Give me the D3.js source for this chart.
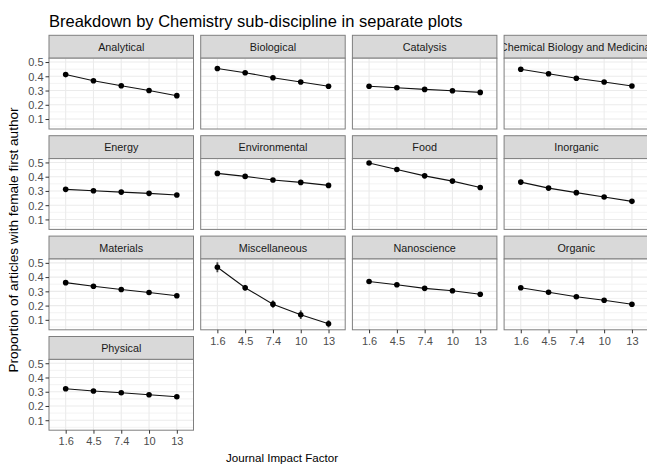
<!DOCTYPE html>
<html lang="en">
<head>
<meta charset="UTF-8">
<title>Breakdown by Chemistry sub-discipline</title>
<script src="https://d3js.org/d3.v7.min.js"></script>
<style>
  body { margin: 0; background: #fff; }
  svg { display: block; font-family: "Liberation Sans", Arial, sans-serif; }
</style>
</head>
<body>
<svg width="647" height="465"></svg>
<script>
// 데이터: 저널 임팩트 팩터 구간별 여성 제1저자 비율
const impactLabels = ["1.6", "4.5", "7.4", "10", "13"];
const disciplines = [
  "Analytical", "Biological", "Catalysis", "Chemical Biology and Medicinal",
  "Energy", "Environmental", "Food", "Inorganic",
  "Materials", "Miscellaneous", "Nanoscience", "Organic",
  "Physical"
];
const analytical    = [0.412, 0.369, 0.334, 0.300, 0.264];
const biological    = [0.455, 0.425, 0.390, 0.360, 0.330];
const catalysis     = [0.330, 0.320, 0.308, 0.299, 0.287];
const chemBioMed    = [0.449, 0.418, 0.386, 0.360, 0.332];
const energy        = [0.311, 0.301, 0.292, 0.283, 0.271];
const environmental = [0.423, 0.402, 0.377, 0.360, 0.339];
const food          = [0.496, 0.451, 0.406, 0.369, 0.324];
const inorganic     = [0.362, 0.320, 0.288, 0.257, 0.227];
const materials     = [0.361, 0.336, 0.313, 0.292, 0.269];
const miscellaneous = [0.469, 0.325, 0.210, 0.136, 0.072];
const nanoscience   = [0.369, 0.346, 0.321, 0.304, 0.280];
const organic       = [0.325, 0.294, 0.262, 0.237, 0.209];
const physical      = [0.321, 0.305, 0.293, 0.279, 0.265];
// 오차 막대 (± 값)
const miscError  = [0.035, 0.020, 0.025, 0.030, 0.025];
const foodError  = [0.007, 0.007, 0.007, 0.009, 0.015];
const smallError = [0.005, 0.005, 0.005, 0.005, 0.006];
const yTicks = [0.1, 0.2, 0.3, 0.4, 0.5];
const yMinor = [0.05, 0.15, 0.25, 0.35, 0.45];

const seriesValues = [analytical, biological, catalysis, chemBioMed, energy, environmental,
  food, inorganic, materials, miscellaneous, nanoscience, organic, physical];
const seriesErrors = disciplines.map(d =>
  d === "Miscellaneous" ? miscError : d === "Food" ? foodError : smallError);

const svg = d3.select("svg");

// 패싯 레이아웃
const marginLeft = 49, marginTop = 35.3;
const panelW = 144.5, stripH = 22.9, panelH = 70.8;
const colStep = 151.7, rowStep = 100.4;
const nCol = 4;

const x = d3.scalePoint().domain(impactLabels).range([0, panelW]).padding(0.6);
const y = d3.scaleLinear().domain([0.03, 0.527]).range([panelH, 0]);

const gridColor = "#ebebeb", borderColor = "#7f7f7f";

disciplines.forEach((name, i) => {
  const col = i % nCol, row = Math.floor(i / nCol);
  const g = svg.append("g")
    .attr("transform", `translate(${marginLeft + col * colStep},${marginTop + row * rowStep})`);

  // 스트립 (패싯 제목)
  const clipId = "clip" + i;
  g.append("clipPath").attr("id", clipId)
    .append("rect").attr("width", panelW).attr("height", stripH);
  g.append("rect")
    .attr("width", panelW).attr("height", stripH)
    .attr("fill", "#d9d9d9").attr("stroke", borderColor).attr("stroke-width", 1);
  g.append("text")
    .attr("clip-path", `url(#${clipId})`)
    .attr("x", panelW / 2).attr("y", stripH / 2 + 4)
    .attr("text-anchor", "middle")
    .style("font-size", "10.8px").style("fill", "#1a1a1a")
    .text(name);

  const p = g.append("g").attr("transform", `translate(0,${stripH})`);
  p.append("rect").attr("width", panelW).attr("height", panelH).attr("fill", "#fff");

  // 격자선
  p.selectAll("line.minor").data(yMinor).enter().append("line")
    .attr("x1", 0).attr("x2", panelW)
    .attr("y1", d => y(d)).attr("y2", d => y(d))
    .attr("stroke", gridColor).attr("stroke-width", 0.6);
  p.selectAll("line.major").data(yTicks).enter().append("line")
    .attr("x1", 0).attr("x2", panelW)
    .attr("y1", d => y(d)).attr("y2", d => y(d))
    .attr("stroke", gridColor).attr("stroke-width", 1.1);
  p.selectAll("line.vmajor").data(impactLabels).enter().append("line")
    .attr("y1", 0).attr("y2", panelH)
    .attr("x1", d => x(d)).attr("x2", d => x(d))
    .attr("stroke", gridColor).attr("stroke-width", 1.1);

  const vals = seriesValues[i], errs = seriesErrors[i];
  const data = impactLabels.map((k, j) => ({ k, v: vals[j], e: errs[j] }));

  // 오차 막대
  p.selectAll("line.err").data(data).enter().append("line")
    .attr("x1", d => x(d.k)).attr("x2", d => x(d.k))
    .attr("y1", d => y(d.v - d.e)).attr("y2", d => y(d.v + d.e))
    .attr("stroke", "#444").attr("stroke-width", 1.8);

  p.append("path").datum(data)
    .attr("d", d3.line().x(d => x(d.k)).y(d => y(d.v)))
    .attr("fill", "none").attr("stroke", "#111").attr("stroke-width", 1.1);

  p.selectAll("circle").data(data).enter().append("circle")
    .attr("cx", d => x(d.k)).attr("cy", d => y(d.v)).attr("r", 2.8)
    .attr("fill", "#000");

  p.append("rect").attr("width", panelW).attr("height", panelH)
    .attr("fill", "none").attr("stroke", borderColor).attr("stroke-width", 1);

  // y축 (첫 번째 열만)
  if (col === 0) {
    const ya = p.append("g")
      .call(d3.axisLeft(y).tickValues(yTicks).tickSize(3.5).tickFormat(d3.format(".1f")));
    ya.select(".domain").remove();
    ya.selectAll("line").attr("stroke", "#333");
    ya.selectAll("text").style("font-size", "11px").style("fill", "#4d4d4d")
      .attr("x", -5.5).attr("dy", "0.35em").style("font-family", "Liberation Sans, Arial, sans-serif");
  }
  // x축 (각 열의 마지막 패널만)
  const lastInCol = i + nCol >= disciplines.length;
  if (lastInCol) {
    const xa = p.append("g").attr("transform", `translate(0,${panelH})`)
      .call(d3.axisBottom(x).tickSize(3.5));
    xa.select(".domain").remove();
    xa.selectAll("line").attr("stroke", "#333");
    xa.selectAll("text").style("font-size", "11px").style("fill", "#4d4d4d")
      .attr("y", 7.5).attr("dy", "0.71em").style("font-family", "Liberation Sans, Arial, sans-serif");
  }
});

// 제목
svg.append("text")
  .attr("x", 49).attr("y", 27)
  .style("font-size", "16.5px").style("fill", "#000")
  .text("Breakdown by Chemistry sub-discipline in separate plots");

// x축 레이블
svg.append("text")
  .attr("x", 282).attr("y", 462)
  .attr("text-anchor", "middle")
  .style("font-size", "11.6px").style("fill", "#000")
  .text("Journal Impact Factor");

// y축 레이블
svg.append("text")
  .attr("transform", "rotate(-90)")
  .attr("x", -240).attr("y", 18)
  .attr("text-anchor", "middle")
  .style("font-size", "13.6px").style("fill", "#000")
  .text("Proportion of articles with female first author");
</script>
</body>
</html>
